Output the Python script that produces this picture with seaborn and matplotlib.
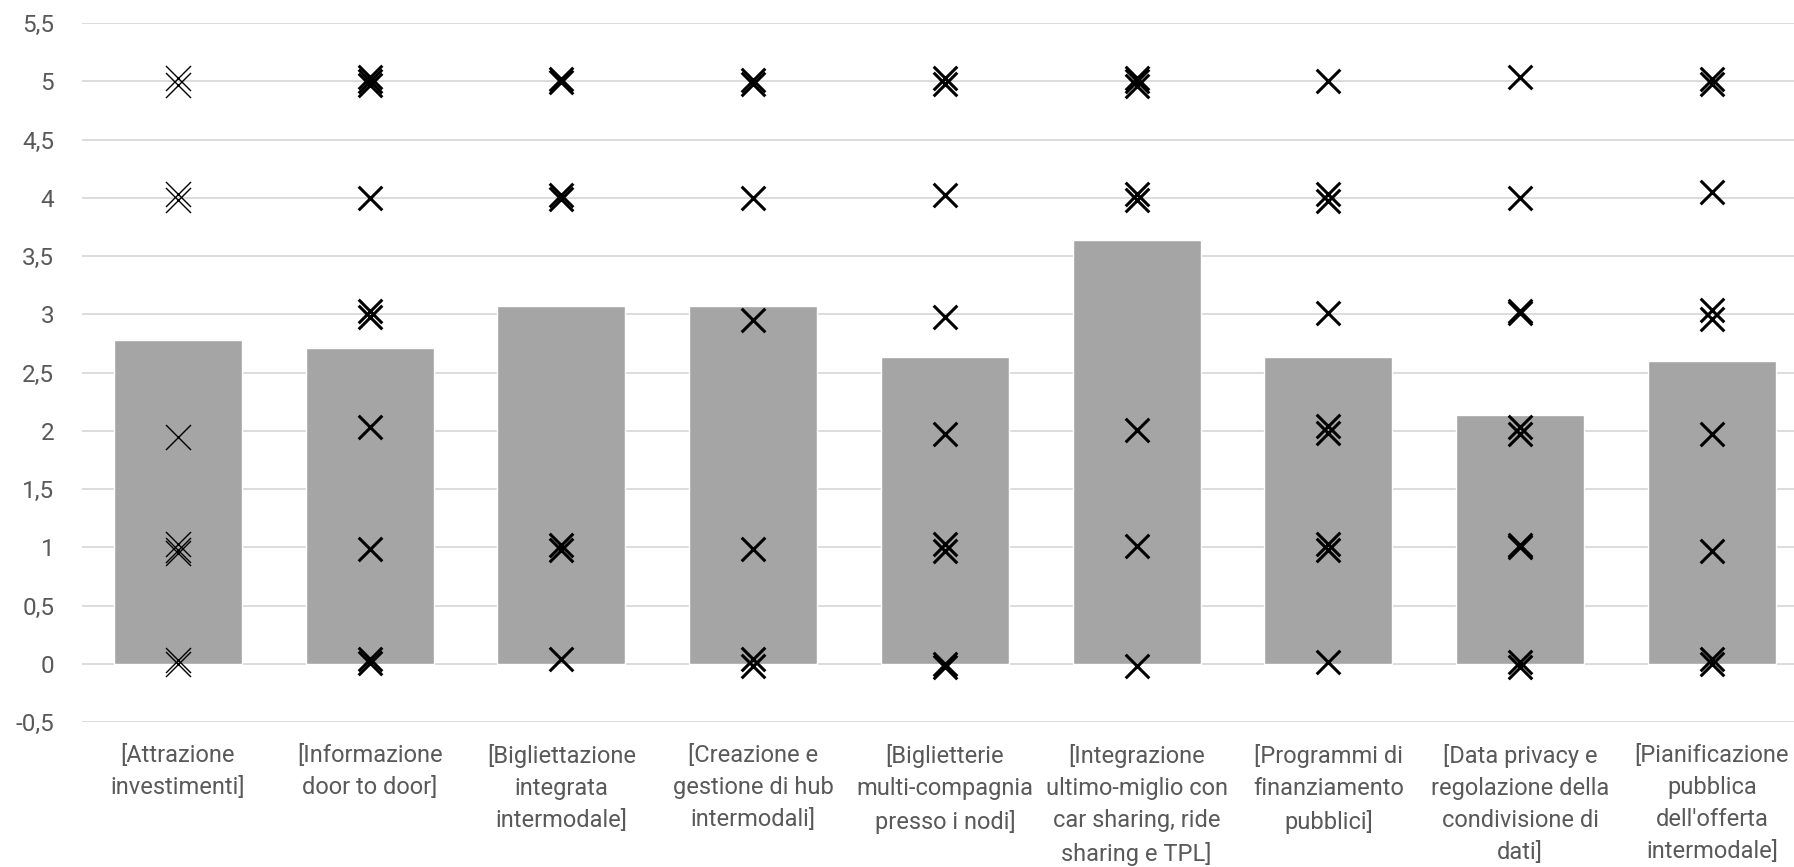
import matplotlib
matplotlib.use("Agg")
import matplotlib.pyplot as plt
import seaborn as sns
import pandas as pd
from matplotlib.ticker import FixedLocator, FuncFormatter

# Categories (survey items)
categories = [
    "[Attrazione\ninvestimenti]",
    "[Informazione\ndoor to door]",
    "[Bigliettazione\nintegrata\nintermodale]",
    "[Creazione e\ngestione di hub\nintermodali]",
    "[Biglietterie\nmulti-compagnia\npresso i nodi]",
    "[Integrazione\nultimo-miglio con\ncar sharing, ride\nsharing e TPL]",
    "[Programmi di\nfinanziamento\npubblici]",
    "[Data privacy e\nregolazione della\ncondivisione di\ndati]",
    "[Pianificazione\npubblica\ndell'offerta\nintermodale]",
]

# Mean score per item
mean_scores = [2.78, 2.71, 3.07, 3.07, 2.63, 3.64, 2.63, 2.14, 2.60]

# Individual responses per item (slightly offset so overlapping answers stay visible)
resp_attrazione = [5.03, 4.97, 4.03, 3.98, 1.95, 1.03, 0.98, 0.95, 0.03, 0.0]
resp_informazione = [5.04, 5.0, 4.97, 4.0, 3.03, 2.98, 2.03, 0.99, 0.04, 0.01]
resp_bigliettazione = [5.02, 4.99, 4.02, 3.99, 1.02, 0.98, 0.04]
resp_hub = [5.01, 4.98, 4.0, 2.95, 0.99, 0.04, -0.02]
resp_biglietterie = [5.03, 4.98, 4.02, 2.98, 1.97, 1.03, 0.97, 0.0, -0.03]
resp_ultimo_miglio = [5.03, 5.0, 4.96, 4.03, 3.98, 2.01, 1.01, -0.02]
resp_finanziamento = [5.0, 4.03, 3.97, 3.01, 2.04, 1.98, 1.03, 0.98, 0.02]
resp_privacy = [5.04, 4.0, 3.03, 3.01, 2.03, 1.97, 1.02, 1.0, 0.02, -0.03]
resp_pianificazione = [5.02, 4.98, 4.05, 3.04, 2.96, 1.97, 0.97, 0.04, 0.0]

responses = [
    resp_attrazione, resp_informazione, resp_bigliettazione, resp_hub,
    resp_biglietterie, resp_ultimo_miglio, resp_finanziamento, resp_privacy,
    resp_pianificazione,
]

y_ticks = [-0.5, 0, 0.5, 1, 1.5, 2, 2.5, 3, 3.5, 4, 4.5, 5, 5.5]

bars_df = pd.DataFrame({"item": categories, "score": mean_scores})
points_df = pd.DataFrame(
    [(cat, v) for cat, vals in zip(categories, responses) for v in vals],
    columns=["item", "score"],
)

sns.set_theme(style="white")
plt.rcParams["font.family"] = ["Roboto", "DejaVu Sans"]

fig = plt.figure(figsize=(17.94, 8.67), dpi=100)
ax = fig.add_axes([0.0457, 0.167, 0.9543, 0.8065])

sns.barplot(data=bars_df, x="item", y="score", order=categories,
            color="#A5A5A5", saturation=1, width=0.667, errorbar=None,
            ax=ax, zorder=2)

first = points_df[points_df["item"] == categories[0]]
rest = points_df[points_df["item"] != categories[0]]
sns.stripplot(data=first, x="item", y="score", order=categories, jitter=False,
              marker="x", color="black", size=18, linewidth=1.0, ax=ax, zorder=3)
sns.stripplot(data=rest, x="item", y="score", order=categories, jitter=False,
              marker="x", color="black", size=17, linewidth=2.2, ax=ax, zorder=3)

ax.set_ylim(-0.5, 5.5)
ax.set_xlim(-0.5, 8.428)
ax.yaxis.set_major_locator(FixedLocator(y_ticks))
ax.yaxis.set_major_formatter(FuncFormatter(lambda v, _: f"{v:g}".replace(".", ",")))
ax.grid(axis="y", color="#D9D9D9", linewidth=1.3, zorder=0)
ax.set_axisbelow(True)
for s in ax.spines.values():
    s.set_visible(False)
ax.set_xlabel("")
ax.set_ylabel("")
ax.tick_params(axis="y", length=0, pad=20, labelsize=17.5, labelcolor="#595959")
ax.tick_params(axis="x", length=0, pad=16, labelsize=17, labelcolor="#595959")
for lbl in ax.get_xticklabels():
    lbl.set_linespacing(1.5)

fig.savefig("out.png", dpi=100)
